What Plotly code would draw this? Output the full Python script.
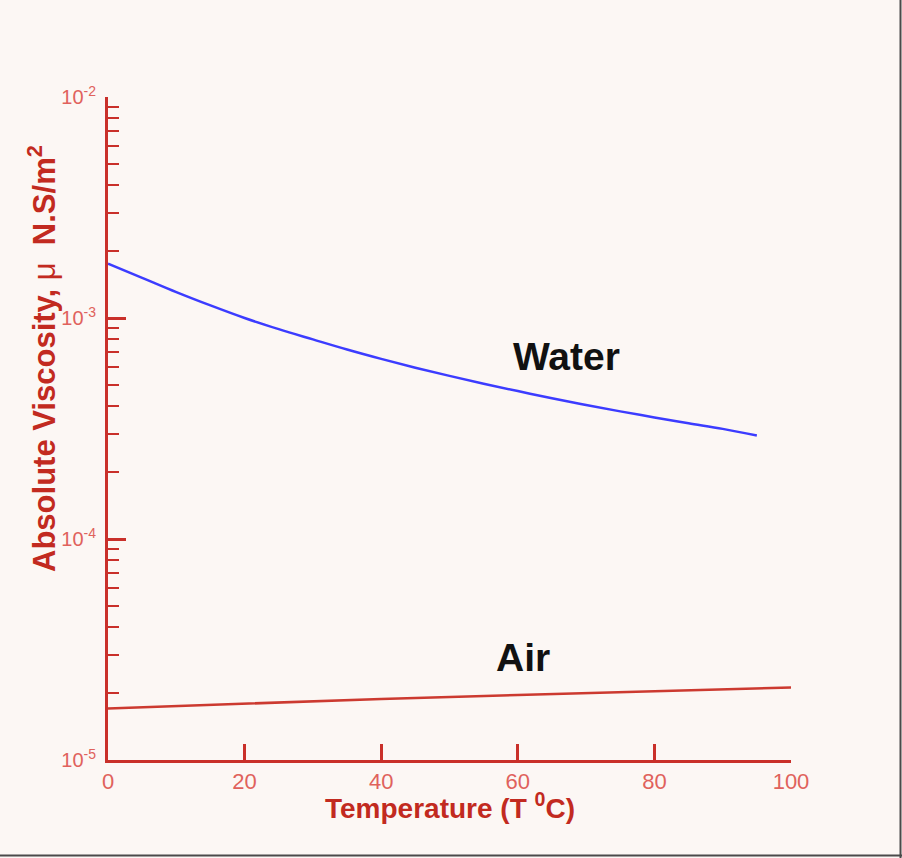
import plotly.graph_objects as go

# Data
water_T = [0, 5, 10, 15, 20, 25, 30, 35, 40, 45, 50, 55, 60, 65, 70, 75, 80, 85, 90, 95]
water_mu = [1.76e-3, 1.52e-3, 1.31e-3, 1.14e-3, 1.00e-3, 0.89e-3, 0.80e-3, 0.72e-3,
            0.653e-3, 0.596e-3, 0.547e-3, 0.504e-3, 0.467e-3, 0.433e-3, 0.404e-3,
            0.378e-3, 0.355e-3, 0.334e-3, 0.315e-3, 0.294e-3]
air_T = [0, 20, 40, 60, 80, 100]
air_mu = [1.71e-5, 1.80e-5, 1.89e-5, 1.97e-5, 2.05e-5, 2.13e-5]

x_ticks = [0, 20, 40, 60, 80, 100]
y_tickvals = [1e-5, 1e-4, 1e-3, 1e-2]
y_ticktext = ["10<sup>-5</sup>", "10<sup>-4</sup>", "10<sup>-3</sup>", "10<sup>-2</sup>"]

AXIS_RED = "#C9302A"
LABEL_RED = "#E0625C"
TITLE_RED = "#C22A20"
BG = "#FCF7F4"

fig = go.Figure()
fig.add_trace(go.Scatter(x=water_T, y=water_mu, mode="lines",
                         line=dict(color="#3C3CFF", width=2.5, shape="spline"),
                         showlegend=False))
fig.add_trace(go.Scatter(x=air_T, y=air_mu, mode="lines",
                         line=dict(color="#CC3A30", width=2.5),
                         showlegend=False))

fig.update_layout(
    width=902, height=858,
    margin=dict(l=108, r=111, t=97, b=98),
    paper_bgcolor=BG, plot_bgcolor=BG,
    font=dict(family="Liberation Sans, Arial, sans-serif"),
    xaxis=dict(
        range=[0, 100], tickvals=x_ticks,
        showline=True, linecolor=AXIS_RED, linewidth=3,
        ticks="inside", ticklen=16, tickwidth=2.5, tickcolor=AXIS_RED,
        tickfont=dict(size=22, color=LABEL_RED),
        showgrid=False, zeroline=False,
    ),
    yaxis=dict(
        type="log", range=[-5, -2],
        tickvals=y_tickvals, ticktext=y_ticktext,
        showline=True, linecolor=AXIS_RED, linewidth=3,
        ticks="inside", ticklen=18, tickwidth=2.5, tickcolor=AXIS_RED,
        tickfont=dict(size=20, color=LABEL_RED),
        ticklabelstandoff=5,
        minor=dict(ticks="inside", ticklen=11, tickwidth=2, tickcolor=AXIS_RED,
                   dtick="D1", showgrid=False),
        showgrid=False, zeroline=False,
    ),
    annotations=[
        dict(text="<b>Water</b>", x=67.2, y=-3.176, xref="x", yref="y",
             showarrow=False, font=dict(size=39, color="#111111")),
        dict(text="<b>Air</b>", x=60.8, y=-4.534, xref="x", yref="y",
             showarrow=False, font=dict(size=39, color="#111111")),
        dict(text="<b>Absolute Viscosity, </b>μ<b>  N.S/m<sup>2</sup></b>",
             textangle=-90, x=-0.097, y=0.606, xref="paper", yref="paper",
             xanchor="center", yanchor="middle", showarrow=False,
             font=dict(size=31, color=TITLE_RED)),
        dict(text="<b>Temperature (T <sup>0</sup>C)</b>",
             x=0.5, y=-0.0694, xref="paper", yref="paper",
             xanchor="center", yanchor="middle", showarrow=False,
             font=dict(size=28, color=TITLE_RED)),
    ],
    shapes=[
        dict(type="line", xref="paper", yref="paper",
             x0=(900.5 - 108) / 683, x1=(900.5 - 108) / 683,
             y0=(760 - 858) / 663, y1=(760 + 0) / 663 + 0.0001 + 97 / 663,
             line=dict(color="#4A4A4A", width=2)),
        dict(type="line", xref="paper", yref="paper",
             x0=-108 / 683, x1=(902 - 108) / 683,
             y0=(760 - 855.5) / 663, y1=(760 - 855.5) / 663,
             line=dict(color="#4A4A4A", width=2)),
    ],
)

fig.write_html("out.html")
